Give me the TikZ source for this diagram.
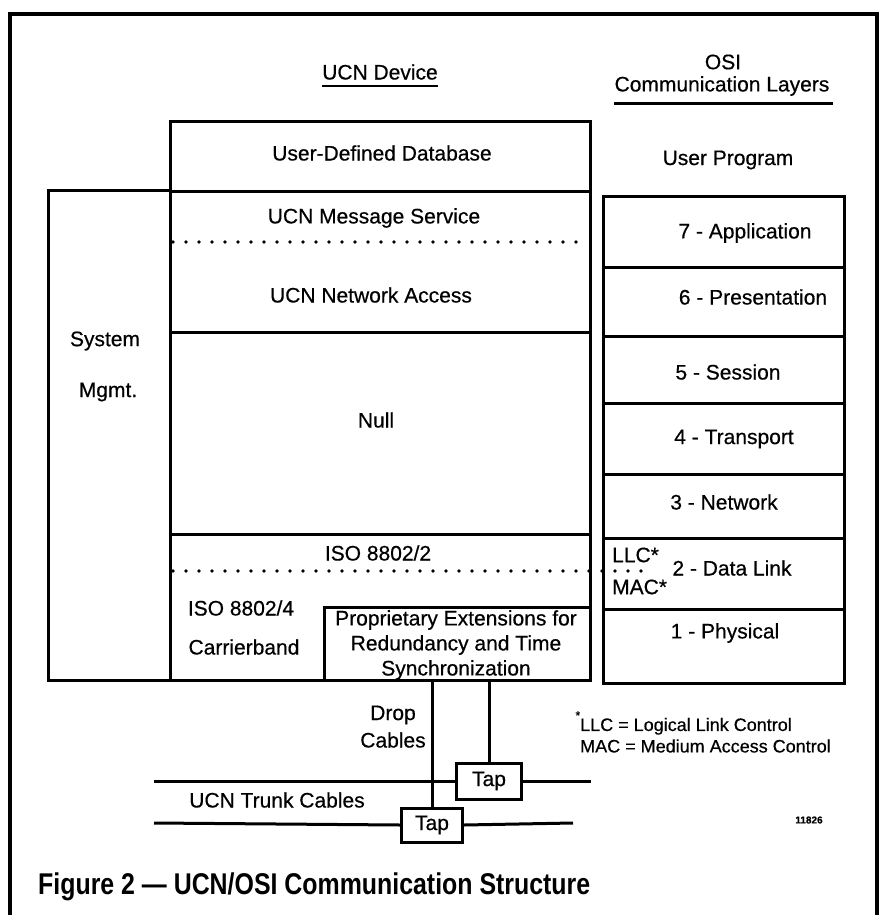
\documentclass[tikz,border=0pt]{standalone}
\usepackage{fontspec}
\setmainfont{Liberation Sans}[FakeBold=0.5]
\newfontfamily\titlefont[FakeStretch=0.83]{Liberation Sans}
\begin{document}
\begin{tikzpicture}[x=1pt,y=-1pt,
  box/.style={draw, line width=3pt, rectangle, inner sep=0pt, anchor=north west},
  lbl/.style={font=\fontsize{21}{25}\selectfont, inner sep=0pt, align=center},
  small/.style={font=\fontsize{18}{23}\selectfont, inner sep=0pt, align=left},
  cable/.style={line width=3pt},
  dots/.style={line width=3.6pt, line cap=round, dash pattern=on 0pt off 13pt}]
\useasboundingbox (0,0) rectangle (884,915);
\fill[white] (0,0) rectangle (884,915);
% outer frame
\draw[line width=3.5pt] (10,918) -- (10,14) -- (877,14) -- (877,918);

% headings
\node[lbl] (hucn) at (380,72) {UCN Device};
\draw[line width=2.5pt] ([yshift=-6pt]hucn.south west) -- ([yshift=-6pt]hucn.south east);
\node[lbl] (hosi) at (723,62) {OSI};
\node[lbl] (hcom) at (722,86) {Communication Layers};
\draw[line width=3pt] (614,104) -- (833,104);

% UCN device column
\node[box, minimum width=420, minimum height=70] (db) at (169,120) {};
\node[box, minimum width=420, minimum height=141] (msg) at (169,190) {};
\node[box, minimum width=420, minimum height=202] (null) at (169,331) {};
\node[box, minimum width=420, minimum height=146] (iso) at (169,533) {};
\node[box, minimum width=122, minimum height=490] (sys) at (47,189) {};
\node[box, minimum width=266, minimum height=73] (prop) at (323,606) {};

\node[lbl] (tdb) at (382,153) {User-Defined Database};
\node[lbl] (tmsg) at (374,218) {UCN Message Service};
\node[lbl] (tnet) at (371,295) {UCN Network Access};
\node[lbl] (tnull) at (376,420) {Null};
\node[lbl] (tsys) at (105,341) {System};
\node[lbl] (tmg) at (108,392) {Mgmt.};
\node[lbl] (tiso2) at (378,553) {ISO 8802/2};
\node[lbl] (tiso4) at (241,608) {ISO 8802/4};
\node[lbl] (tcar) at (244,647) {Carrierband};
\node[lbl] (tp1) at (456,620) {Proprietary Extensions for};
\node[lbl] (tp2) at (456,645) {Redundancy and Time};
\node[lbl] (tp3) at (456,670) {Synchronization};

\draw[dots] (173,242) -- (583,242);
\draw[dots] (173,571) -- (648,571);

% OSI column
\node[lbl] (tup) at (728,160) {User Program};
\node[box, minimum width=241, minimum height=71] (o7) at (602,195) {};
\node[box, minimum width=241, minimum height=69] (o6) at (602,266) {};
\node[box, minimum width=241, minimum height=67] (o5) at (602,335) {};
\node[box, minimum width=241, minimum height=71] (o4) at (602,402) {};
\node[box, minimum width=241, minimum height=64] (o3) at (602,473) {};
\node[box, minimum width=241, minimum height=71] (o2) at (602,537) {};
\node[box, minimum width=241, minimum height=74] (o1) at (602,608) {};
\node[lbl] (t7) at (745,233) {7 - Application};
\node[lbl] (t6) at (753,297) {6 - Presentation};
\node[lbl] (t5) at (728,372) {5 - Session};
\node[lbl] (t4) at (734,439) {4 - Transport};
\node[lbl] (t3) at (724,502) {3 - Network};
\node[lbl] (t2) at (732,568) {2 - Data Link};
\node[lbl] (t1) at (725,633) {1 - Physical};
\node[lbl, anchor=west] (tllc) at (612,555) {LLC*};
\node[lbl, anchor=west] (tmac) at (612,587) {MAC*};

% cables
\node[box, anchor=center, minimum width=65, minimum height=36, font=\fontsize{21}{25}\selectfont] (tapU) at (489,781) {Tap};
\node[box, anchor=center, minimum width=61, minimum height=34, font=\fontsize{21}{25}\selectfont] (tapL) at (432,825) {Tap};
\coordinate (ut1) at (154,781);
\coordinate (ut2) at (591,781);
\coordinate (lt1) at (154,823);
\coordinate (lt2) at (573,823);
\draw[cable] (ut1) -- (tapU.west);
\draw[cable] (tapU.east) -- (ut2);
\draw[cable] (lt1) -- (tapL.west);
\draw[cable] (tapL.east) -- (lt2);
\draw[cable] (prop.south -| tapU.north) -- (tapU.north);
\draw[cable] (prop.south -| tapL.north) -- (tapL.north);
\node[lbl] (tdrop) at (393,715) {Drop};
\node[lbl] (tcab) at (393,740) {Cables};
\node[lbl] (ttrunk) at (277,800) {UCN Trunk Cables};

% footnote
\node[small, anchor=west] (fn1) at (580,723) {\llap{\raisebox{1.2ex}{\fontsize{12}{12}\selectfont *}}LLC = Logical Link Control};
\node[small, anchor=west] (fn2) at (580,746) {MAC = Medium Access Control};
\node[font=\fontsize{10}{12}\selectfont\bfseries, inner sep=0pt] (num) at (809,820) {11826};

% title
\node[font=\titlefont\bfseries\fontsize{30}{34}\selectfont, inner sep=0pt, anchor=west] (title) at (38,887) {Figure 2 — UCN/OSI Communication Structure};
\end{tikzpicture}
\end{document}
